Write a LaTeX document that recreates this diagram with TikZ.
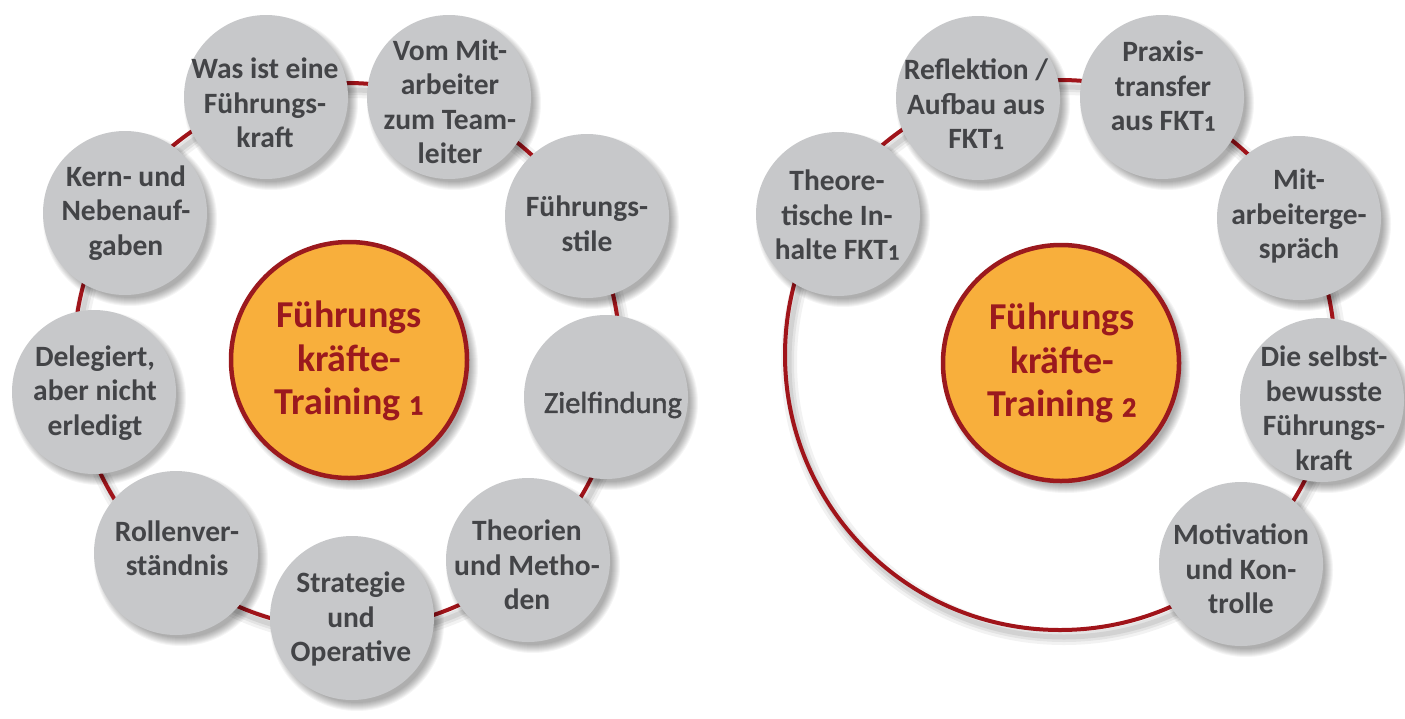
\documentclass[tikz,border=0pt]{standalone}
\usepackage{fontspec}
\setmainfont{Carlito}
\newfontfamily\zielfont[FakeBold=1.4]{Carlito}
\newfontfamily\digfont[FakeBold=1.3]{Carlito Bold}
\newcommand\osd[2]{{\digfont\fontseries{m}\fontsize{#1}{#1}\selectfont #2}}
\definecolor{bubgrey}{RGB}{199,200,202}
\definecolor{txtgrey}{RGB}{67,68,71}
\definecolor{hubfill}{RGB}{248,175,60}
\definecolor{hubred}{RGB}{155,25,30}
\definecolor{ringred}{RGB}{160,20,26}
\newcommand\softshadow[3]{%
  \foreach \k in {0,...,8}{\fill[black,opacity=0.04] (#1+5,#2+6) circle[radius=#3-3+\k];}}
\newcommand\ringshadow[3]{%
  \draw[black,opacity=0.05,line width=16] (#1+4,#2+7) circle[radius=#3];
  \draw[black,opacity=0.06,line width=10] (#1+4,#2+7) circle[radius=#3];
  \draw[black,opacity=0.07,line width=5] (#1+4,#2+7) circle[radius=#3];}
\begin{document}
\begin{tikzpicture}[x=1pt,y=-1pt,
  bub/.style={circle,fill=bubgrey,minimum size=164,inner sep=0},
  hub/.style={circle,fill=hubfill,draw=hubred,line width=4.5,minimum size=236,inner sep=0},
  lbl/.style={text=txtgrey,align=center,font=\bfseries\fontsize{29.5}{34.5}\selectfont,inner sep=0},
  hublbl/.style={text=hubred,align=center,font=\bfseries\fontsize{38}{43.5}\selectfont,inner sep=0},
  ring/.style={draw=ringred,line width=4}]
\useasboundingbox (0,0) rectangle (1405,718);
\fill[white] (0,0) rectangle (1405,718);
% ---------- left ----------
\ringshadow{347}{356}{273}
\draw[ring] (347,356) circle[radius=273];
\softshadow{266}{97}{82}
\softshadow{449}{97}{82}
\softshadow{587}{216}{82}
\softshadow{606}{397}{82}
\softshadow{528}{560}{82}
\softshadow{352}{618}{82}
\softshadow{176}{553}{82}
\softshadow{94}{392}{82}
\softshadow{125}{213}{82}
\softshadow{349}{360}{119}
\node[bub] (a1) at (266,97) {};
\node[bub] (a2) at (449,97) {};
\node[bub] (a3) at (587,216) {};
\node[bub] (a4) at (606,397) {};
\node[bub] (a5) at (528,560) {};
\node[bub] (a6) at (352,618) {};
\node[bub] (a7) at (176,553) {};
\node[bub] (a8) at (94,392) {};
\node[bub] (a9) at (125,213) {};
\node[hub] (ha) at (349,360) {};
\node[lbl] (ta1) at (265,103) {Was ist eine\\Führungs-\\kraft};
\node[lbl] (ta2) at (450,102) {Vom Mit-\\arbeiter\\zum Team-\\leiter};
\node[lbl] (ta3) at (587,224) {Führungs-\\stile};
\node[lbl,font=\zielfont\fontsize{30.5}{34.5}\selectfont] (ta4) at (613,405) {Zielfindung};
\node[lbl] (ta5) at (527,565) {Theorien\\und Metho-\\den};
\node[lbl] (ta6) at (351,619) {Strategie\\und\\Operative};
\node[lbl] (ta7) at (177,548) {Rollenver-\\ständnis};
\node[lbl] (ta8) at (95,393) {Delegiert,\\aber nicht\\erledigt};
\node[lbl] (ta9) at (126,213) {Kern- und\\Nebenauf-\\gaben};
\node[hublbl] (tha) at (349,361) {Führungs\\kräfte-\\Training \osd{28}{1}};
% ---------- right ----------
\ringshadow{1060}{355}{275}
\draw[ring] (1060,355) circle[radius=275];
\softshadow{838}{214}{82}
\softshadow{978}{98}{82}
\softshadow{1162}{97}{82}
\softshadow{1299}{218}{82}
\softshadow{1322}{400}{82}
\softshadow{1241}{564}{82}
\softshadow{1061}{363}{119}
\node[bub] (b1) at (838,214) {};
\node[bub] (b2) at (978,98) {};
\node[bub] (b3) at (1162,97) {};
\node[bub] (b4) at (1299,218) {};
\node[bub] (b5) at (1322,400) {};
\node[bub] (b6) at (1241,564) {};
\node[hub] (hb) at (1061,363) {};
\node[lbl] (tb1) at (837,215) {Theore-\\tische In-\\halte FKT\osd{22}{1}};
\node[lbl] (tb2) at (976,104) {Reflektion /\\Aufbau aus\\FKT\osd{22}{1}};
\node[lbl] (tb3) at (1163,86) {Praxis-\\transfer\\aus FKT\osd{22}{1}};
\node[lbl] (tb4) at (1299,216) {Mit-\\arbeiterge-\\spräch};
\node[lbl] (tb5) at (1324,408) {Die selbst-\\bewusste\\Führungs-\\kraft};
\node[lbl] (tb6) at (1241,569) {Motivation\\und Kon-\\trolle};
\node[hublbl] (thb) at (1062,363) {Führungs\\kräfte-\\Training \osd{28}{2}};
\end{tikzpicture}
\end{document}
